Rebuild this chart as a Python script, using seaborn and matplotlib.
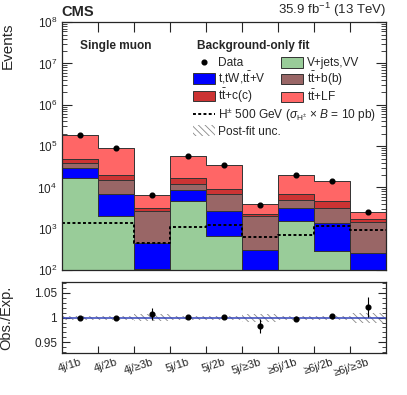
import numpy as np
import pandas as pd
import matplotlib
matplotlib.use("Agg")
import matplotlib.pyplot as plt
import matplotlib.patches as mpatches
import matplotlib.lines as mlines
from matplotlib.ticker import LogLocator, NullFormatter, FixedLocator
import seaborn as sns

# Data
categories = ["4j/1b", "4j/2b", "4j/\u22653b", "5j/1b", "5j/2b", "5j/\u22653b",
              "\u22656j/1b", "\u22656j/2b", "\u22656j/\u22653b"]
vjets = [17400, 2000, 109, 4600, 677, 50, 1550, 285, 40]
single_top = [12200, 4800, 341, 3900, 2083, 252, 1610, 1095, 220]
ttbb = [9400, 8200, 2250, 3900, 4040, 1698, 1940, 1860, 1240]
ttcc = [9000, 5000, 500, 4200, 2500, 300, 1700, 1360, 200]
ttlf = [136000, 70500, 3500, 40400, 25200, 1600, 13200, 9400, 870]
data = [184000, 90500, 6750, 57100, 34600, 3830, 20000, 14100, 2620]
signal = [1400, 1350, 460, 1130, 1260, 620, 725, 1200, 960]
ratio = [1.000, 1.000, 1.008, 1.002, 1.002, 0.983, 0.997, 1.004, 1.021]
ratio_err = [0.002, 0.002, 0.012, 0.002, 0.002, 0.015, 0.003, 0.003, 0.020]
fit_unc = [0.004, 0.004, 0.007, 0.004, 0.004, 0.008, 0.004, 0.004, 0.010]

labels = {
    "LF": r"t$\bar{\rm t}$+LF",
    "cc": r"t$\bar{\rm t}$+c(c)",
    "bb": r"t$\bar{\rm t}$+b(b)",
    "st": r"t,tW,t$\bar{\rm t}$+V",
    "vj": "V+jets,VV",
}
colors = {"LF": "#ff6666", "cc": "#cc3333", "bb": "#996666",
          "st": "#0000ff", "vj": "#99cc99"}

sns.set_style("ticks")
plt.rcParams["font.family"] = ["Liberation Sans", "DejaVu Sans"]
plt.rcParams["mathtext.fontset"] = "custom"
plt.rcParams["mathtext.rm"] = "Liberation Sans"
plt.rcParams["mathtext.it"] = "Liberation Sans:italic"
plt.rcParams["mathtext.bf"] = "Liberation Sans:bold"
plt.rcParams["hatch.linewidth"] = 0.6

idx = np.arange(len(categories))
rows = []
for key, vals in [("LF", ttlf), ("cc", ttcc), ("bb", ttbb), ("st", single_top), ("vj", vjets)]:
    for i, v in zip(idx, vals):
        rows.append({"bin": i, "proc": key, "events": v})
df = pd.DataFrame(rows)

fig = plt.figure(figsize=(4.07, 3.95), dpi=100)
ax = fig.add_axes([0.152, 0.316, 0.796, 0.628])
rax = fig.add_axes([0.152, 0.107, 0.796, 0.178])

# stacked backgrounds (first hue level ends up on top)
sns.histplot(data=df, x="bin", weights="events", hue="proc",
             hue_order=["LF", "cc", "bb", "st", "vj"], palette=colors,
             multiple="stack", discrete=True, element="step", alpha=1,
             edgecolor="#333333", linewidth=0.7, legend=False, ax=ax)

# signal
sns.histplot(x=idx, weights=signal, discrete=True, element="step", fill=False,
             color="black", linestyle=(0, (1.5, 1.2)), linewidth=1.4, ax=ax)

# data
ax.errorbar(idx, data, yerr=np.sqrt(data), fmt="o", color="black",
            markersize=3.4, elinewidth=0.8, capsize=0, zorder=5)

ax.set_yscale("log")
ax.set_ylim(1e2, 1e8)
ax.set_xlim(-0.5, 8.5)
ax.set_xlabel("")
ax.set_ylabel("Events", fontsize=11, loc="top")
ax.yaxis.set_label_coords(-0.145, 1.0)
edges = np.arange(-0.5, 9.0, 1.0)
ax.xaxis.set_major_locator(FixedLocator(edges[1:-1]))
ax.set_xticklabels([])
ax.yaxis.set_major_locator(LogLocator(base=10, numticks=10))
ax.yaxis.set_minor_locator(LogLocator(base=10, subs=np.arange(2, 10), numticks=20))
ax.yaxis.set_minor_formatter(NullFormatter())
ax.tick_params(axis="both", which="both", direction="in", top=True, right=True,
               labelsize=8.5)
ax.tick_params(axis="y", which="major", length=7)
ax.tick_params(axis="y", which="minor", length=3.5)
ax.tick_params(axis="x", which="major", length=7)
for s in ax.spines.values():
    s.set_linewidth(0.9)

fs = 8.6
# texts
ax.text(0.0, 1.012, "CMS", transform=ax.transAxes, fontsize=10.5,
        fontweight="bold", ha="left", va="bottom")
ax.text(1.0, 1.012, r"35.9 fb$^{-1}$ (13 TeV)", transform=ax.transAxes,
        fontsize=9.5, ha="right", va="bottom")
ax.text(0.055, 0.905, "Single muon", transform=ax.transAxes, fontsize=fs,
        fontweight="bold", ha="left", va="center")
ax.text(0.418, 0.905, "Background-only fit", transform=ax.transAxes,
        fontsize=fs, fontweight="bold", ha="left", va="center")

h_data = mlines.Line2D([], [], color="black", marker="o", markersize=3.4,
                       linestyle="none")
def box(k):
    return mpatches.Patch(facecolor=colors[k], edgecolor="#333333", linewidth=0.7)
leg1 = ax.legend([h_data, box("st"), box("cc"), box("vj"), box("bb"), box("LF")],
                 ["Data", labels["st"], labels["cc"], labels["vj"], labels["bb"], labels["LF"]],
                 ncol=2, loc="upper left", bbox_to_anchor=(0.405, 0.86),
                 frameon=False, fontsize=fs, handlelength=1.8, handleheight=1.0,
                 handletextpad=0.3, columnspacing=1.3, labelspacing=0.05,
                 borderaxespad=0, borderpad=0)
ax.add_artist(leg1)
h_sig = mlines.Line2D([], [], color="black", linestyle=(0, (1.5, 1.2)), linewidth=1.4)
h_unc = mpatches.Patch(facecolor="none", edgecolor="#888888", hatch="\\\\\\\\\\",
                       linewidth=0)
ax.legend([h_sig, h_unc],
          [r"H$^{\pm}$ 500 GeV ($\sigma_{\rm H^{\pm}}$ $\times$ $\it{B}$ = 10 pb)",
           "Post-fit unc."],
          loc="upper left", bbox_to_anchor=(0.405, 0.66), frameon=False,
          fontsize=fs, handlelength=1.8, handleheight=1.0, handletextpad=0.3,
          labelspacing=0.12, borderaxespad=0, borderpad=0)

# ratio panel
rax.bar(idx, 2 * np.array(fit_unc), bottom=1 - np.array(fit_unc), width=1.0,
        color="none", edgecolor="#888888", hatch="\\\\\\\\\\", linewidth=0)
rax.axhline(1.0, color="#3344bb", linewidth=1.1)
rax.errorbar(idx, ratio, yerr=ratio_err, fmt="o", color="black",
             markersize=3.4, elinewidth=0.8, capsize=0, zorder=5)
rax.set_xlim(-0.5, 8.5)
rax.set_ylim(0.929, 1.071)
rax.set_yticks([0.95, 1.0, 1.05])
rax.set_yticklabels(["0.95", "1", "1.05"])
rax.yaxis.set_minor_locator(FixedLocator([0.93, 0.94, 0.96, 0.97, 0.98, 0.99,
                                          1.01, 1.02, 1.03, 1.04, 1.06, 1.07]))
rax.yaxis.set_minor_formatter(NullFormatter())
rax.xaxis.set_major_locator(FixedLocator(edges[1:-1]))
rax.xaxis.set_minor_locator(FixedLocator(idx))
rax.set_xticklabels([], minor=False)
rax.set_xticklabels(categories, minor=True, rotation=18, ha="right",
                    rotation_mode="anchor", fontsize=8)
rax.tick_params(axis="x", which="minor", length=0, pad=3)
rax.tick_params(axis="x", which="major", direction="in", length=5, top=False)
rax.tick_params(axis="y", which="both", direction="in", right=True, labelsize=8.5)
rax.tick_params(axis="y", which="major", length=6)
rax.tick_params(axis="y", which="minor", length=3)
rax.set_ylabel("Obs./Exp.", fontsize=10.5)
rax.yaxis.set_label_coords(-0.15, 0.5)
for s in rax.spines.values():
    s.set_linewidth(0.9)

fig.savefig("out.png", dpi=100)
